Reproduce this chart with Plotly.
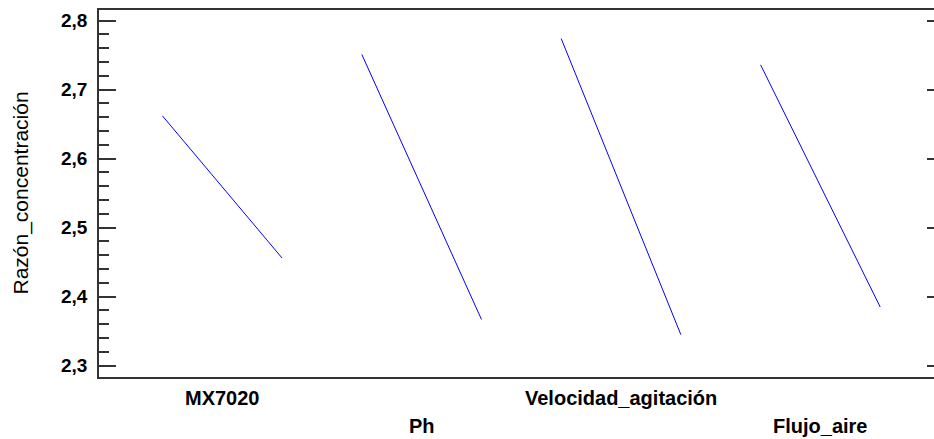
import plotly.graph_objects as go

# Data (main effects: mean response at low and high level of each factor)
factors = ["MX7020", "Ph", "Velocidad_agitación", "Flujo_aire"]
low_means = [2.662, 2.751, 2.774, 2.736]
high_means = [2.456, 2.367, 2.345, 2.385]
y_title = "Razón_concentración"

FONT = "Liberation Sans, Arial, sans-serif"
AX = "#333333"
half = 0.3

fig = go.Figure()
for i, (f, lo, hi) in enumerate(zip(factors, low_means, high_means), start=1):
    fig.add_trace(go.Scatter(
        x=[i - half, i + half], y=[lo, hi], mode="lines",
        line=dict(color="#0000FF", width=1), showlegend=False, name=f,
        hoverinfo="skip"))
# invisible trace to anchor the right-side tick axis
fig.add_trace(go.Scatter(x=[1], y=[low_means[0]], yaxis="y2", mode="lines",
                         line=dict(width=0), showlegend=False, hoverinfo="skip"))

yr = [2.2836, 2.8155]

# staggered factor labels
for i, f in enumerate(factors, start=1):
    fig.add_annotation(x=i, xref="x", y=-0.057 if i % 2 == 1 else -0.133,
                       yref="paper", text="<b>%s</b>" % f, showarrow=False,
                       xanchor="center", yanchor="middle",
                       font=dict(family=FONT, size=20, color="#000000"))

fig.add_annotation(x=-0.0946, xref="paper", y=0.5, yref="paper", text=y_title,
                   textangle=-90, showarrow=False, xanchor="center",
                   yanchor="middle", font=dict(family=FONT, size=21, color="#000000"))

fig.update_layout(
    width=934, height=439,
    margin=dict(l=99, r=0, t=10, b=62),
    paper_bgcolor="white", plot_bgcolor="white",
    separators=",.",
    xaxis=dict(range=[0.3816, 4.5698], showline=True, linecolor=AX, linewidth=1.5,
               mirror=True, ticks="", showticklabels=False, showgrid=False,
               zeroline=False),
    yaxis=dict(range=yr, showline=True, linecolor=AX, linewidth=1.5,
               ticks="inside", ticklen=17, tickwidth=1.5, tickcolor=AX,
               tick0=2.3, dtick=0.1, tickformat=".1f", showgrid=False,
               zeroline=False, ticklabelstandoff=6,
               tickfont=dict(family=FONT, size=19, color="#000000", weight="bold"),
               minor=dict(ticks="inside", ticklen=10, tickwidth=1.5,
                          tickcolor=AX, dtick=0.02, tick0=2.3, showgrid=False)),
    yaxis2=dict(range=yr, overlaying="y", side="right", showline=False,
                ticks="inside", ticklen=7, tickwidth=1.5, tickcolor=AX,
                tick0=2.3, dtick=0.1, showticklabels=False, showgrid=False,
                zeroline=False),
)

fig.write_html("out.html")
